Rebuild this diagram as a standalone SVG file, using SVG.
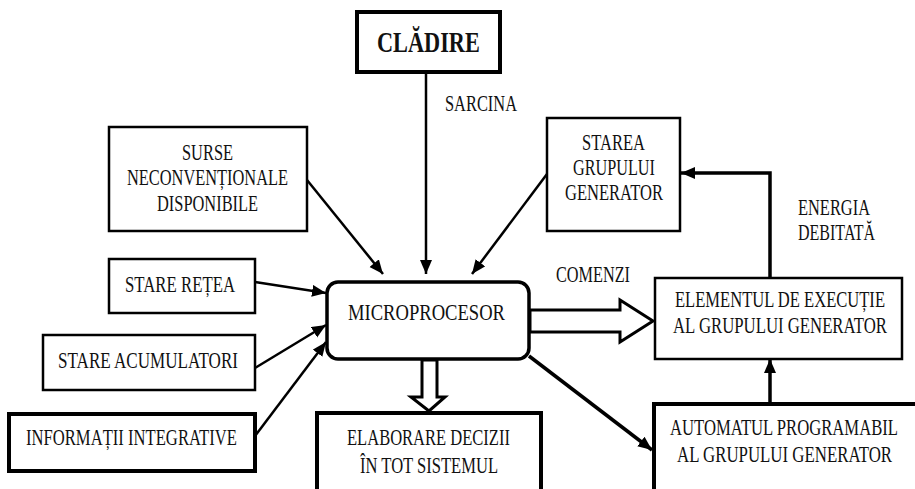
<svg xmlns="http://www.w3.org/2000/svg" width="915" height="489" viewBox="0 0 915 489">
<style>
text{font-family:"Liberation Serif","Times New Roman",serif;font-size:22.5px;fill:#111}
.b{fill:#fff;stroke:#000;stroke-width:2.5}
.t{fill:#fff;stroke:#000;stroke-width:4}
.c{fill:none;stroke:#000;stroke-width:2.5}
.ct{fill:none;stroke:#000;stroke-width:3.5}
.h{fill:#fff;stroke:#000;stroke-width:3;stroke-linejoin:miter}
</style>
<defs>
<marker id="ah" markerUnits="userSpaceOnUse" markerWidth="16" markerHeight="14" refX="14" refY="6" orient="auto">
<path d="M0,0 L14,6 L0,12 Z" fill="#000"/>
</marker>
</defs>
<g id="connectors">
<line class="c" x1="426" y1="72" x2="426" y2="274" marker-end="url(#ah)"/>
<line class="c" x1="307" y1="180" x2="383" y2="274" marker-end="url(#ah)"/>
<line class="c" x1="547" y1="174" x2="472" y2="274" marker-end="url(#ah)"/>
<line class="c" x1="255" y1="282" x2="326" y2="293" marker-end="url(#ah)"/>
<line class="c" x1="255" y1="368" x2="326" y2="325" marker-end="url(#ah)"/>
<line class="c" x1="255" y1="436" x2="326" y2="342" marker-end="url(#ah)"/>
<line class="ct" x1="529" y1="356" x2="652" y2="450" marker-end="url(#ah)"/>
<path class="ct" d="M770,277 V173 H681" marker-end="url(#ah)"/>
<line class="ct" x1="770" y1="403" x2="770" y2="359" marker-end="url(#ah)"/>
<polygon class="h" points="530,310 620,310 620,300 653,321 620,342 620,332 530,332"/>
<polygon class="h" points="422,360 437,360 437,397 445,397 429,411 411,397 422,397"/>
</g>
<g id="cladire">
<rect class="t" x="357" y="12" width="143" height="60"/>
<text transform="translate(377,52) scale(0.75,1)" style="font-size:30px;font-weight:bold" textLength="137" lengthAdjust="spacingAndGlyphs">CLĂDIRE</text>
</g>
<g id="sarcina-label"><text transform="translate(445,111) scale(0.75,1)" textLength="96" lengthAdjust="spacingAndGlyphs">SARCINA</text></g>
<g id="surse">
<rect class="b" x="109" y="127" width="198" height="104"/>
<text transform="translate(182,160) scale(0.75,1)" textLength="68" lengthAdjust="spacingAndGlyphs">SURSE</text>
<text transform="translate(127,185) scale(0.75,1)" textLength="214.7" lengthAdjust="spacingAndGlyphs">NECONVENȚIONALE</text>
<text transform="translate(157,211) scale(0.75,1)" textLength="134.7" lengthAdjust="spacingAndGlyphs">DISPONIBILE</text>
</g>
<g id="stare-retea">
<rect class="b" x="109" y="259" width="146" height="54"/>
<text transform="translate(125,292) scale(0.75,1)" textLength="146.7" lengthAdjust="spacingAndGlyphs">STARE REȚEA</text>
</g>
<g id="stare-acumulatori">
<rect class="b" x="43" y="335" width="212" height="55"/>
<text transform="translate(58,368) scale(0.75,1)" textLength="240" lengthAdjust="spacingAndGlyphs">STARE ACUMULATORI</text>
</g>
<g id="informatii">
<rect class="t" x="9" y="414" width="246" height="57"/>
<text transform="translate(26,445) scale(0.75,1)" textLength="281.3" lengthAdjust="spacingAndGlyphs">INFORMAȚII INTEGRATIVE</text>
</g>
<g id="microprocesor">
<rect x="327" y="282" width="202" height="77" rx="11" fill="#fff" stroke="#000" stroke-width="3.5"/>
<text transform="translate(348,320) scale(0.75,1)" textLength="209.3" lengthAdjust="spacingAndGlyphs">MICROPROCESOR</text>
</g>
<g id="elaborare">
<rect class="t" x="317" y="413" width="224" height="85"/>
<text transform="translate(347,445) scale(0.75,1)" textLength="217.3" lengthAdjust="spacingAndGlyphs">ELABORARE DECIZII</text>
<text transform="translate(360,473) scale(0.75,1)" textLength="184" lengthAdjust="spacingAndGlyphs">ÎN TOT SISTEMUL</text>
</g>
<g id="starea">
<rect class="b" x="547" y="118" width="133" height="113"/>
<text transform="translate(582,150) scale(0.75,1)" textLength="84" lengthAdjust="spacingAndGlyphs">STAREA</text>
<text transform="translate(573,175) scale(0.75,1)" textLength="109.3" lengthAdjust="spacingAndGlyphs">GRUPULUI</text>
<text transform="translate(565,200) scale(0.75,1)" textLength="130.7" lengthAdjust="spacingAndGlyphs">GENERATOR</text>
</g>
<g id="comenzi-label"><text transform="translate(556,282) scale(0.75,1)" textLength="98.7" lengthAdjust="spacingAndGlyphs">COMENZI</text></g>
<g id="energia-label">
<text transform="translate(798,215) scale(0.75,1)" textLength="96" lengthAdjust="spacingAndGlyphs">ENERGIA</text>
<text transform="translate(798,240) scale(0.75,1)" textLength="102.7" lengthAdjust="spacingAndGlyphs">DEBITATĂ</text>
</g>
<g id="elementul">
<rect class="b" x="655" y="278" width="247" height="81"/>
<text transform="translate(675,307) scale(0.75,1)" textLength="280" lengthAdjust="spacingAndGlyphs">ELEMENTUL DE EXECUȚIE</text>
<text transform="translate(673,333) scale(0.75,1)" textLength="285.3" lengthAdjust="spacingAndGlyphs">AL GRUPULUI GENERATOR</text>
</g>
<g id="automatul">
<rect class="t" x="654" y="404" width="270" height="95"/>
<text transform="translate(670,435) scale(0.75,1)" textLength="304" lengthAdjust="spacingAndGlyphs">AUTOMATUL PROGRAMABIL</text>
<text transform="translate(677,462) scale(0.75,1)" textLength="286.7" lengthAdjust="spacingAndGlyphs">AL GRUPULUI GENERATOR</text>
</g>
</svg>
